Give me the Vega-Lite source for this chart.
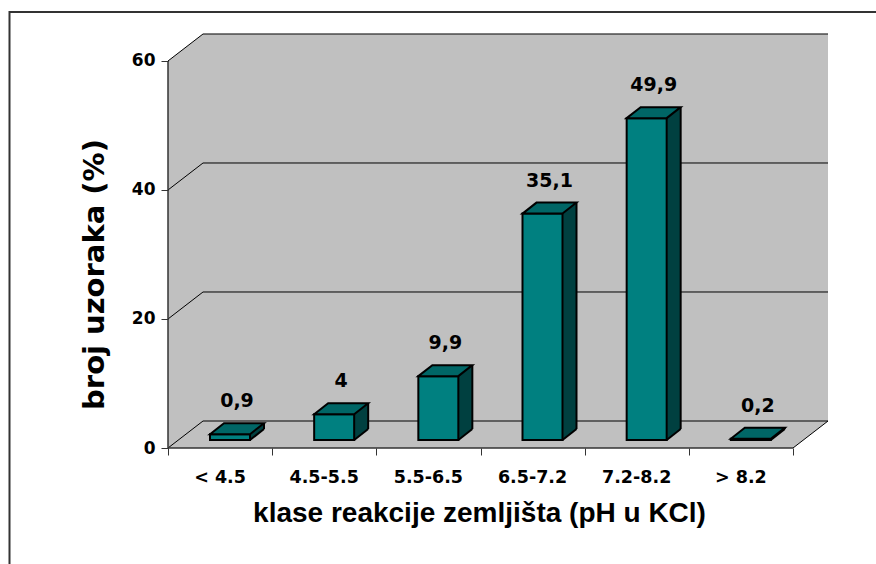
{
  "$schema": "https://vega.github.io/schema/vega-lite/v6.json",
  "width": 660,
  "height": 414,
  "autosize": {"type": "none"},
  "padding": {"left": 168, "top": 34, "right": 48, "bottom": 116},
  "background": "white",
  "config": {
    "view": {"fill": "#C0C0C0", "stroke": null},
    "locale": {"number": {"decimal": ",", "thousands": ".", "grouping": [3], "currency": ["", ""]}}
  },
  "data": {"values": [
    {"cat": "< 4.5", "idx": 0, "pct": 0.9},
    {"cat": "4.5-5.5", "idx": 1, "pct": 4},
    {"cat": "5.5-6.5", "idx": 2, "pct": 9.9},
    {"cat": "6.5-7.2", "idx": 3, "pct": 35.1},
    {"cat": "7.2-8.2", "idx": 4, "pct": 49.9},
    {"cat": "> 8.2", "idx": 5, "pct": 0.2}
  ]},
  "layer": [
    {
      "data": {"values": [{}]},
      "mark": {"type": "point", "shape": "M0,0 L0,-28 L36.3,-28 Z", "size": 4, "filled": true, "fill": "white", "opacity": 1, "strokeWidth": 0},
      "encoding": {
        "x": {"datum": 0, "type": "quantitative", "scale": {"domain": [0, 6.336], "nice": false, "zero": false},
          "axis": {"values": [0, 1, 2, 3, 4, 5, 6], "tickSize": 7, "tickColor": "#333333", "labels": false, "domain": false, "grid": false,
            "title": "klase reakcije zemljišta (pH u KCl)", "titleFont": "Liberation Sans", "titleFontSize": 28, "titleFontWeight": "bold", "titleColor": "black",
            "titleX": 311, "titleY": 73, "titleBaseline": "alphabetic", "titleAlign": "center"}},
        "y": {"datum": 60, "type": "quantitative", "scale": {"domain": [0, 64.186], "nice": false, "zero": false},
          "axis": {"values": [0, 20, 40, 60], "tickSize": 7, "tickColor": "#333333", "domain": false, "grid": false,
            "labelFont": "DejaVu Sans", "labelFontSize": 17, "labelFontWeight": "bold", "labelColor": "black", "labelPadding": 6,
            "title": "broj uzoraka (%)", "titleFont": "DejaVu Sans", "titleFontSize": 29, "titleFontWeight": "bold", "titleColor": "black",
            "titleX": -65, "titleY": 240, "titleBaseline": "alphabetic", "titleAngle": -90, "titleAlign": "center"}}
      }
    },
    {
      "data": {"values": [{}]},
      "mark": {"type": "point", "shape": "M0,0 L36.3,0 L36.3,-28 Z", "size": 4, "filled": true, "fill": "white", "opacity": 1, "strokeWidth": 0},
      "encoding": {"x": {"datum": 6, "type": "quantitative"}, "y": {"datum": 0, "type": "quantitative"}}
    },
    {
      "data": {"values": [{}]},
      "mark": {"type": "point", "shape": "M-158.5,120 L-158.5,-436 L712,-436", "size": 4, "filled": false, "stroke": "#333333", "strokeWidth": 2, "opacity": 1},
      "encoding": {"x": {"datum": 0, "type": "quantitative"}, "y": {"datum": 0, "type": "quantitative"}}
    },
    {
      "data": {"values": [{"g": 0}, {"g": 20}, {"g": 40}, {"g": 60}]},
      "mark": {"type": "rule", "color": "black", "strokeWidth": 1, "xOffset": 35, "x2Offset": 35, "yOffset": -27},
      "encoding": {"x": {"datum": 0, "type": "quantitative"}, "x2": {"datum": 6}, "y": {"field": "g", "type": "quantitative"}}
    },
    {
      "data": {"values": [{"g": 0}, {"g": 20}, {"g": 40}, {"g": 60}]},
      "mark": {"type": "point", "shape": "M0,0 L35,-27", "size": 4, "filled": false, "stroke": "black", "strokeWidth": 1, "opacity": 1},
      "encoding": {"x": {"datum": 0, "type": "quantitative"}, "y": {"field": "g", "type": "quantitative"}}
    },
    {
      "data": {"values": [{}]},
      "mark": {"type": "point", "shape": "M0,0 L35,-27", "size": 4, "filled": false, "stroke": "black", "strokeWidth": 1, "opacity": 1},
      "encoding": {"x": {"datum": 6, "type": "quantitative"}, "y": {"datum": 0, "type": "quantitative"}}
    },
    {
      "data": {"values": [{}]},
      "mark": {"type": "rule", "color": "#333333", "strokeWidth": 1.5},
      "encoding": {"x": {"datum": 0, "type": "quantitative"}, "y": {"datum": 0, "type": "quantitative"}, "y2": {"datum": 60}}
    },
    {
      "data": {"values": [{}]},
      "mark": {"type": "rule", "color": "#333333", "strokeWidth": 1.5},
      "encoding": {"x": {"datum": 0, "type": "quantitative"}, "x2": {"datum": 6}, "y": {"datum": 0, "type": "quantitative"}}
    },
    {
      "mark": {"type": "rect", "fill": "#004040", "strokeWidth": 0, "xOffset": 82, "x2Offset": 96, "yOffset": -19, "y2Offset": -8},
      "encoding": {"x": {"field": "idx", "type": "quantitative"}, "x2": {"field": "idx"}, "y": {"field": "pct", "type": "quantitative"}, "y2": {"datum": 0}}
    },
    {
      "mark": {"type": "point", "shape": "M0,0 L15,0 L15,-11.8 Z", "size": 4, "filled": true, "fill": "#C0C0C0", "opacity": 1, "strokeWidth": 0, "xOffset": 82, "yOffset": -8},
      "encoding": {"x": {"field": "idx", "type": "quantitative"}, "y": {"datum": 0, "type": "quantitative"}}
    },
    {
      "mark": {"type": "rule", "color": "black", "strokeWidth": 2, "xOffset": 96, "yOffset": -19, "y2Offset": -19},
      "encoding": {"x": {"field": "idx", "type": "quantitative"}, "y": {"field": "pct", "type": "quantitative"}, "y2": {"datum": 0}}
    },
    {
      "mark": {"type": "point", "shape": "M0,0 L14,-11", "size": 4, "filled": false, "stroke": "black", "strokeWidth": 2, "opacity": 1, "xOffset": 82, "yOffset": -8},
      "encoding": {"x": {"field": "idx", "type": "quantitative"}, "y": {"datum": 0, "type": "quantitative"}}
    },
    {
      "mark": {"type": "rect", "fill": "#008080", "stroke": "black", "strokeWidth": 2, "xOffset": 42, "x2Offset": 82, "yOffset": -8, "y2Offset": -8},
      "encoding": {"x": {"field": "idx", "type": "quantitative"}, "x2": {"field": "idx"}, "y": {"field": "pct", "type": "quantitative"}, "y2": {"datum": 0}}
    },
    {
      "mark": {"type": "point", "shape": "M0,0 L14,-11 L54,-11 L40,0 Z", "size": 4, "filled": true, "fill": "#006666", "stroke": "black", "strokeWidth": 2, "strokeJoin": "miter", "opacity": 1, "xOffset": 42, "yOffset": -8},
      "encoding": {"x": {"field": "idx", "type": "quantitative"}, "y": {"field": "pct", "type": "quantitative"}}
    },
    {
      "mark": {"type": "text", "font": "DejaVu Sans", "fontSize": 19, "fontWeight": "bold", "color": "black", "align": "center", "baseline": "alphabetic", "dx": 69, "dy": -35},
      "encoding": {"x": {"field": "idx", "type": "quantitative"}, "y": {"field": "pct", "type": "quantitative"}, "text": {"field": "pct", "type": "quantitative", "format": ".1~f"}}
    },
    {
      "mark": {"type": "text", "font": "DejaVu Sans", "fontSize": 17.5, "fontWeight": "bold", "color": "black", "align": "center", "baseline": "alphabetic", "dx": 52, "dy": 35},
      "encoding": {"x": {"field": "idx", "type": "quantitative"}, "y": {"datum": 0, "type": "quantitative"}, "text": {"field": "cat", "type": "nominal"}}
    }
  ]
}
